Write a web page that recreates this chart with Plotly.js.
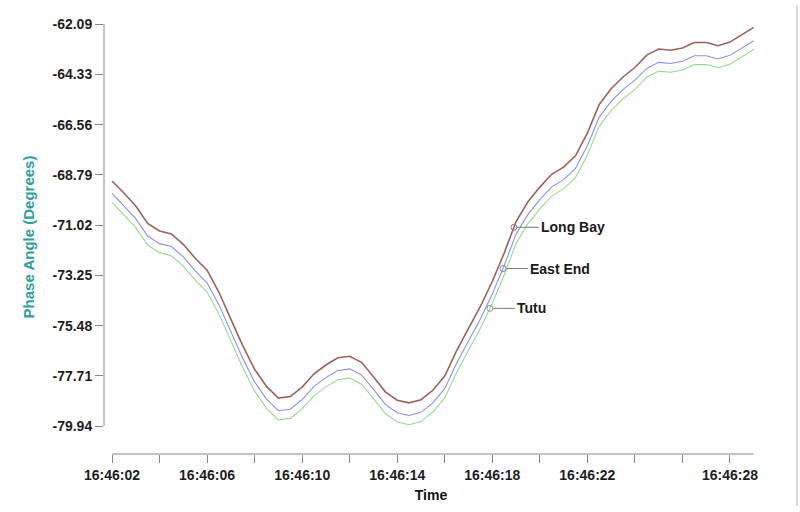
<!DOCTYPE html>
<html><head><meta charset="utf-8">
<script src="https://cdn.plot.ly/plotly-3.0.1.min.js"></script>
<style>html,body{margin:0;padding:0;background:#fff;} #chart{width:800px;height:512px;}</style>
</head><body><div id="chart"></div>
<script>
// Time base: samples every 0.5 s starting 16:46:02
const day = '2000-01-01 ';
const startSecond = 2;
const stepSeconds = 0.5;

const longBay = [-69.06,-69.59,-70.17,-70.94,-71.28,-71.41,-71.87,-72.49,-73.02,-74.00,
  -75.19,-76.37,-77.42,-78.18,-78.70,-78.63,-78.21,-77.62,-77.23,-76.91,
  -76.84,-77.11,-77.75,-78.42,-78.79,-78.91,-78.77,-78.35,-77.72,-76.59,
  -75.60,-74.63,-73.52,-72.26,-70.86,-69.98,-69.33,-68.76,-68.44,-67.94,
  -66.93,-65.66,-64.96,-64.44,-64.02,-63.47,-63.20,-63.25,-63.15,-62.91,
  -62.91,-63.05,-62.89,-62.57,-62.24];
const eastEnd = [-69.61,-70.15,-70.73,-71.50,-71.84,-71.97,-72.43,-73.05,-73.58,-74.56,
  -75.75,-76.93,-77.98,-78.74,-79.26,-79.19,-78.77,-78.18,-77.79,-77.47,
  -77.40,-77.67,-78.31,-78.98,-79.35,-79.47,-79.33,-78.91,-78.28,-77.15,
  -76.16,-75.19,-74.08,-72.82,-71.42,-70.54,-69.89,-69.32,-69.00,-68.50,
  -67.49,-66.22,-65.52,-65.00,-64.58,-64.06,-63.79,-63.84,-63.74,-63.50,
  -63.50,-63.64,-63.48,-63.16,-62.83];
const tutu = [-70.01,-70.55,-71.13,-71.90,-72.24,-72.38,-72.84,-73.46,-73.99,-74.97,
  -76.16,-77.34,-78.39,-79.15,-79.67,-79.60,-79.18,-78.59,-78.20,-77.88,
  -77.81,-78.08,-78.72,-79.39,-79.76,-79.88,-79.74,-79.32,-78.69,-77.56,
  -76.57,-75.60,-74.49,-73.23,-71.83,-70.95,-70.30,-69.73,-69.41,-68.91,
  -67.90,-66.63,-65.93,-65.41,-64.99,-64.45,-64.18,-64.23,-64.13,-63.89,
  -63.89,-64.03,-63.87,-63.55,-63.22];

const seriesNames = ['Long Bay', 'East End', 'Tutu'];
const labelSeconds = [18.91, 18.45, 17.90]; // where each series is labelled

const yTickVals = [-79.94,-77.71,-75.48,-73.25,-71.02,-68.79,-66.56,-64.33,-62.09];
const yTickText = ['-79.94','-77.71','-75.48','-73.25','-71.02','-68.79','-66.56','-64.33','-62.09'];
const xTickSeconds = [2,4,6,8,10,12,14,16,18,20,22,24,26,28];
const xTickText = ['16:46:02','','16:46:06','','16:46:10','','16:46:14','','16:46:18','','16:46:22','','','16:46:28'];

function stamp(sec){
  const s = Math.floor(sec);
  const ms = Math.round((sec - s) * 1000);
  return day + '16:46:' + String(s).padStart(2,'0') + '.' + String(ms).padStart(3,'0');
}
const times = longBay.map((_, i) => stamp(startSecond + i * stepSeconds));

// value of a series at an arbitrary second
function valueAt(ys, sec){
  const p = (sec - startSecond) / stepSeconds;
  const i = Math.floor(p), f = p - i;
  return ys[i] + (ys[i+1] - ys[i]) * f;
}

const colors = ['#9c625c', '#8b8ef2', '#93d993'];
const widths = [1.6, 1.1, 1.1];
const allSeries = [longBay, eastEnd, tutu];

const traces = allSeries.map((ys, k) => ({
  type: 'scatter', mode: 'lines', name: seriesNames[k],
  x: times, y: ys, line: {color: colors[k], width: widths[k]}
}));
const labelY = allSeries.map((ys, k) => valueAt(ys, labelSeconds[k]));
traces.push({
  type: 'scatter', mode: 'markers', showlegend: false,
  x: labelSeconds.map(stamp), y: labelY,
  marker: {symbol: 'circle-open', size: 6, color: ['#8a7470', '#7f86c8', '#8f9a8f'], line: {width: 1}}
});

const FONT = 'Liberation Sans, Arial, sans-serif';
const tickFont = {family: FONT, size: 14, color: '#1e1e1e', weight: 'bold'};

const annotations = allSeries.map((ys, k) => ({
  x: stamp(labelSeconds[k]), y: labelY[k], xref: 'x', yref: 'y',
  text: seriesNames[k], showarrow: true, arrowhead: 0, arrowwidth: 1, arrowcolor: '#7a7a7a',
  ax: 25, ay: 0, xanchor: 'left', yanchor: 'middle', standoff: 3,
  font: {family: FONT, size: 14, color: '#1a1a1a', weight: 'bold'}
}));

const layout = {
  width: 800, height: 512,
  margin: {l: 104, r: 42, t: 20, b: 58},
  paper_bgcolor: '#ffffff', plot_bgcolor: '#ffffff',
  showlegend: false,
  xaxis: {
    type: 'date', range: [stamp(1.663), stamp(29.18)],
    tickvals: xTickSeconds.map(stamp), ticktext: xTickText,
    ticks: 'outside', ticklen: 8, tickcolor: '#888', tickwidth: 1,
    showgrid: false, zeroline: false, showline: false,
    tickfont: tickFont,
    title: {text: 'Time', standoff: 8, font: {family: FONT, size: 14, color: '#111', weight: 'bold'}}
  },
  yaxis: {
    range: [-81.18, -61.91],
    tickvals: yTickVals, ticktext: yTickText,
    ticks: 'outside', ticklen: 8, tickcolor: '#888', tickwidth: 1,
    showgrid: false, zeroline: false, showline: false,
    tickfont: tickFont,
    title: {text: 'Phase Angle (Degrees)', standoff: 14, font: {family: FONT, size: 15, color: '#2f9e9e', weight: 'bold'}}
  },
  shapes: [
    {type: 'line', xref: 'paper', yref: 'y', x0: 0, x1: 0, y0: yTickVals[0], y1: yTickVals[yTickVals.length-1], line: {color: '#888', width: 1}},
    {type: 'line', xref: 'x', yref: 'paper', x0: times[0], x1: times[times.length-1], y0: 0, y1: 0, line: {color: '#888', width: 1}},
    {type: 'line', xref: 'paper', yref: 'paper', x0: 1.0596, x1: 1.0596, y0: -0.12, y1: 1.035, line: {color: '#d8d8d8', width: 2}}
  ],
  annotations: annotations
};

Plotly.newPlot('chart', traces, layout, {displayModeBar: false, staticPlot: true});
</script>
</body></html>
